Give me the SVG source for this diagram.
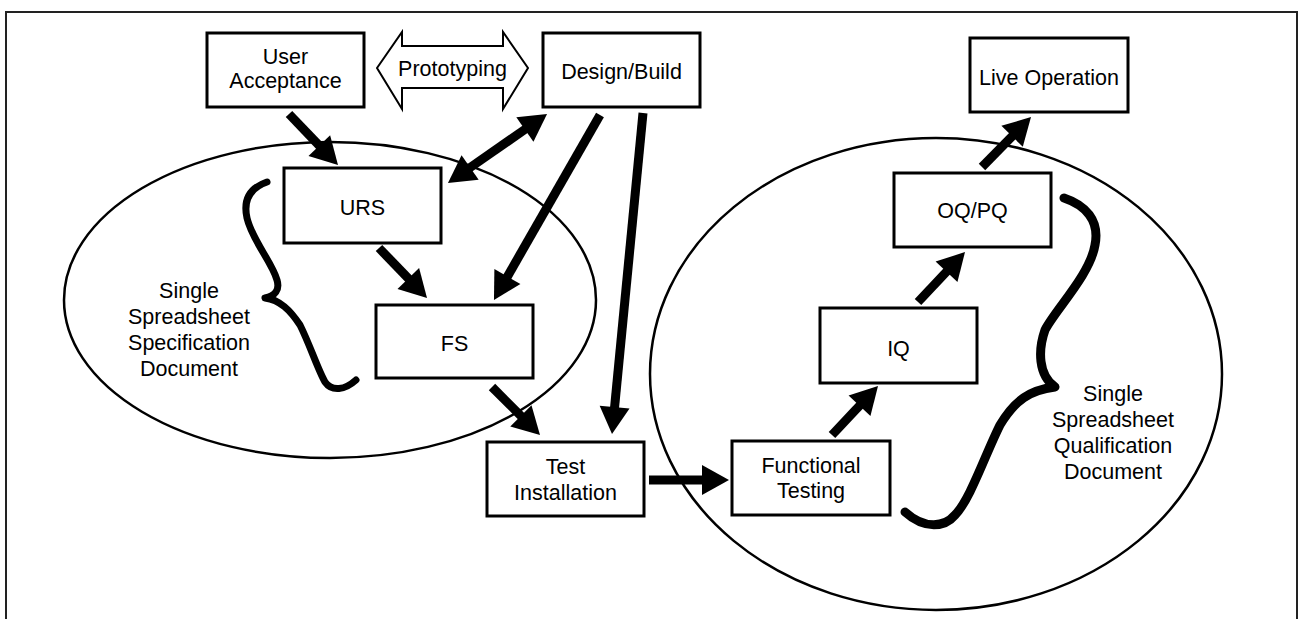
<svg xmlns="http://www.w3.org/2000/svg" width="1301" height="619" viewBox="0 0 1301 619">
<style>
.box{fill:#fff;stroke:#000;stroke-width:3}
.oval{fill:none;stroke:#000;stroke-width:2.5}
.t{font-family:"Liberation Sans",Arial,sans-serif;font-size:21.5px;fill:#000;text-anchor:middle}
.a{stroke:#000;stroke-width:9;fill:none;marker-end:url(#ah)}
.brace{fill:none;stroke:#000;stroke-linecap:round;stroke-linejoin:round}
</style>
<defs>
<marker id="ah" markerUnits="userSpaceOnUse" markerWidth="30" markerHeight="34" viewBox="0 -17 30 34" refX="0" refY="0" orient="auto-start-reverse" overflow="visible">
<path d="M-1,-15 L26,0 L-1,15 z" fill="#000"/>
</marker>
</defs>
<rect width="1301" height="619" fill="#fff"/>
<path d="M6,630 L6,12 L1297,12 L1297,630" fill="none" stroke="#222" stroke-width="2"/>

<g id="spec-ellipse"><ellipse class="oval" cx="330" cy="300" rx="266" ry="158"/></g>
<g id="qual-ellipse"><ellipse class="oval" cx="936" cy="374" rx="286" ry="236"/></g>

<g id="user-acceptance"><rect class="box" x="207" y="33" width="157" height="74"/><text class="t" x="285.5" y="64">User</text><text class="t" x="285.5" y="88">Acceptance</text></g>
<g id="prototyping"><path d="M377,68 L402,32 L402,46 L503,46 L503,32 L528,68 L503,109 L503,88 L402,88 L402,109 Z" fill="#fff" stroke="#000" stroke-width="2"/><text class="t" x="452.5" y="76">Prototyping</text></g>
<g id="design-build"><rect class="box" x="543" y="33" width="157" height="74"/><text class="t" x="621.5" y="79">Design/Build</text></g>
<g id="live-operation"><rect class="box" x="970" y="38" width="158" height="74"/><text class="t" x="1049" y="85">Live Operation</text></g>
<g id="urs"><rect class="box" x="284" y="168" width="157" height="75"/><text class="t" x="362.5" y="215">URS</text></g>
<g id="fs"><rect class="box" x="376" y="305" width="157" height="73"/><text class="t" x="454.5" y="351">FS</text></g>
<g id="test-installation"><rect class="box" x="487" y="442" width="157" height="74"/><text class="t" x="565.5" y="474">Test</text><text class="t" x="565.5" y="500">Installation</text></g>
<g id="functional-testing"><rect class="box" x="732" y="441" width="158" height="74"/><text class="t" x="811" y="473">Functional</text><text class="t" x="811" y="498">Testing</text></g>
<g id="iq"><rect class="box" x="820" y="308" width="157" height="75"/><text class="t" x="898.5" y="356">IQ</text></g>
<g id="oqpq"><rect class="box" x="894" y="173" width="157" height="74"/><text class="t" x="972.5" y="218">OQ/PQ</text></g>

<g id="spec-label"><path class="brace" stroke-width="7" d="M267,182 C250,188 243,200 247,218 C252,240 272,262 277,280 C280,290 275,296 265,298 C280,300 290,310 300,325 C310,345 318,370 325,382 C332,392 345,390 356,380"/>
<text class="t" x="189" y="298">Single</text><text class="t" x="189" y="324">Spreadsheet</text><text class="t" x="189" y="350">Specification</text><text class="t" x="189" y="376">Document</text></g>
<g id="qual-label"><path class="brace" stroke-width="9" d="M1064,198 C1085,205 1100,220 1095,245 C1090,275 1055,310 1045,330 C1038,350 1038,375 1055,387 C1030,390 1015,400 1000,425 C985,455 970,500 955,515 C945,527 925,530 905,512"/>
<text class="t" x="1113" y="401">Single</text><text class="t" x="1113" y="427">Spreadsheet</text><text class="t" x="1113" y="453">Qualification</text><text class="t" x="1113" y="479">Document</text></g>

<g id="connectors">
<line class="a" x1="289" y1="114" x2="320" y2="146.3"/>
<line class="a" x1="379" y1="248" x2="409" y2="279.2"/>
<line class="a" x1="600" y1="115" x2="506.9" y2="277.4"/>
<line class="a" x1="643" y1="113" x2="614.5" y2="408.1"/>
<line class="a" x1="492" y1="387" x2="521.6" y2="416.6"/>
<line class="a" x1="649" y1="480" x2="703" y2="480"/>
<line class="a" x1="832" y1="435" x2="860.2" y2="405"/>
<line class="a" x1="918" y1="302" x2="947.2" y2="271"/>
<line class="a" x1="982" y1="167" x2="1012.8" y2="135.6"/>
<line class="a" x1="469.3" y1="168.1" x2="525.7" y2="128.9" marker-start="url(#ah)"/>
</g>
</svg>
